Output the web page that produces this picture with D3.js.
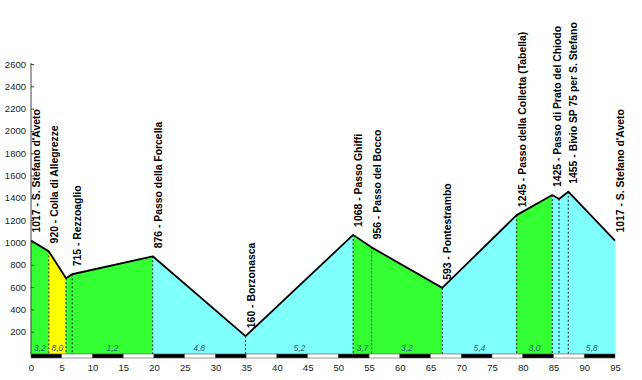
<!DOCTYPE html>
<html>
<head>
<meta charset="utf-8">
<script src="https://cdn.jsdelivr.net/npm/d3@7/dist/d3.min.js"></script>
<style>
  html, body { margin: 0; padding: 0; background: #fff; }
  svg { display: block; }
</style>
</head>
<body>
<svg id="chart" width="642" height="380"></svg>
<script>
// ---- data ----
const km    = [0, 2.9, 5.7, 6.7, 19.8, 34.9, 52.4, 55.4, 66.9, 79.0, 84.8, 85.9, 87.4, 95];
const elev  = [1017, 920, 680, 715, 876, 160, 1068, 956, 593, 1245, 1425, 1390, 1455, 1017];
const names = ["S. Stefano d'Aveto", "Colla di Allegrezze", null, "Rezzoaglio", "Passo della Forcella",
               "Borzonasca", "Passo Ghiffi", "Passo del Bocco", "Pontestrambo",
               "Passo della Colletta (Tabella)", "Passo di Prato del Chiodo", null,
               "Bivio SP 75 per S. Stefano", "S. Stefano d'Aveto"];
const segType   = ["g", "y", "g", "g", "c", "c", "g", "g", "c", "g", "c", "c", "c"];
const gradients = ["3,2", "8,0", "", "1,2", "4,8", "5,2", "3,7", "3,2", "5,4", "3,0", "", "", "5,8"];
const xTicks = d3.range(0, 96, 5);
const yTicks = d3.range(200, 2601, 200);

// ---- layout ----
const svg = d3.select("#chart");
const x = d3.scaleLinear().domain([0, 95]).range([31, 615]);
const y = d3.scaleLinear().domain([0, 2600]).range([354, 64]);
const fillColor = { g: "#33ff33", y: "#ffff00", c: "#80ffff" };

const pts = km.map((k, i) => ({ k, e: elev[i], name: names[i] }));

// segment fills
const area = d3.area().x(d => x(d.k)).y0(y(0)).y1(d => y(d.e));
segType.forEach((t, i) => {
  svg.append("path")
    .attr("d", area([pts[i], pts[i + 1]]))
    .attr("fill", fillColor[t])
    .attr("stroke", fillColor[t])
    .attr("stroke-width", 0.5);
});

// dashed verticals
svg.append("g").selectAll("line")
  .data(pts.slice(1, pts.length - 1))
  .join("line")
  .attr("x1", d => x(d.k)).attr("x2", d => x(d.k))
  .attr("y1", d => y(d.e)).attr("y2", y(0))
  .attr("stroke", "#222")
  .attr("stroke-width", 1)
  .attr("stroke-dasharray", "2,2");

// profile line
svg.append("path")
  .datum(pts)
  .attr("d", d3.line().x(d => x(d.k)).y(d => y(d.e)))
  .attr("fill", "none")
  .attr("stroke", "#000")
  .attr("stroke-width", 1.8)
  .attr("stroke-linejoin", "round");

// gradient labels
svg.append("g").selectAll("text")
  .data(gradients.map((g, i) => ({ g, m: (km[i] + km[i + 1]) / 2 })).filter(d => d.g))
  .join("text")
  .attr("x", d => x(d.m))
  .attr("y", 351)
  .attr("text-anchor", "middle")
  .attr("font-family", "Liberation Sans, Arial, sans-serif")
  .attr("font-style", "italic")
  .attr("font-size", 8.5)
  .attr("fill", "#2b5f7a")
  .text(d => d.g);

// vertical place labels
svg.append("g").selectAll("text")
  .data(pts.filter(d => d.name))
  .join("text")
  .attr("transform", d => `translate(${x(d.k) + 9},${y(d.e) - 8}) rotate(-90)`)
  .attr("text-anchor", "start")
  .attr("font-family", "Liberation Sans, Arial, sans-serif")
  .attr("font-weight", "bold")
  .attr("font-size", 10.4)
  .attr("fill", "#000")
  .text(d => `${d.e} - ${d.name}`);

// distance band
const band = svg.append("g");
band.selectAll("rect")
  .data(d3.range(0, 95, 5))
  .join("rect")
  .attr("x", d => x(d))
  .attr("y", 354)
  .attr("width", d => x(d + 5) - x(d))
  .attr("height", 4)
  .attr("fill", (d, i) => i % 2 === 0 ? "#000" : "#fff")
  .attr("stroke", "#555")
  .attr("stroke-width", 0.6);

// y axis
const yAxis = d3.axisRight(y).tickValues(yTicks).tickSize(3).tickFormat(d3.format("d"));
const gy = svg.append("g").attr("transform", `translate(${x(0)},0)`).call(yAxis);
gy.select(".domain").attr("d", `M0,${y(2600) - 1}V${y(0)}`).attr("stroke", "#444");
gy.selectAll(".tick line").attr("stroke", "#444");
gy.selectAll(".tick text")
  .attr("x", -5)
  .attr("text-anchor", "end")
  .attr("font-family", "Liberation Sans, Arial, sans-serif")
  .attr("font-size", 9.5)
  .attr("fill", "#222");

// x axis labels
const xAxis = d3.axisBottom(x).tickValues(xTicks).tickSize(0).tickPadding(0).tickFormat(d3.format("d"));
const gx = svg.append("g").attr("transform", `translate(0,${y(0) + 10})`).call(xAxis);
gx.select(".domain").remove();
gx.selectAll(".tick text")
  .attr("dy", "0.71em")
  .attr("font-family", "Liberation Sans, Arial, sans-serif")
  .attr("font-size", 9.5)
  .attr("fill", "#222");
</script>
</body>
</html>
